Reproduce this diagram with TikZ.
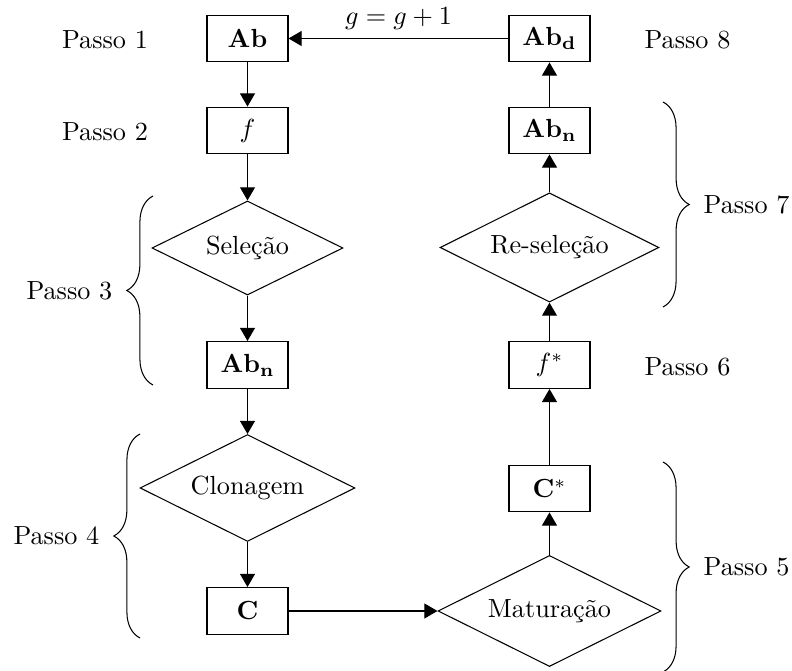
\documentclass[tikz,border=0pt]{standalone}
\usepackage{amsmath}
\usepackage{amssymb}
\usetikzlibrary{shapes.geometric,arrows.meta,decorations.pathreplacing}

\begin{document}
\begin{tikzpicture}[x=0.3817pt,y=-0.3817pt,
  caixa/.style={draw, rectangle, minimum width=30.9pt, minimum height=17.9pt, inner sep=0pt},
  decisao/.style={draw, diamond, aspect=2, inner sep=0pt, minimum width=83.5pt, minimum height=41.7pt},
  seta/.style={-{Triangle[length=5pt,width=5.7pt]}},
  chave/.style={decorate, decoration={brace, amplitude=10pt}}]
\useasboundingbox (0,0) rectangle (792,671);
\node[caixa] (ab) at (247.5,38.5) {$\mathbf{Ab}$};
\node[caixa] (f) at (247.5,130.5) {$f$};
\node[decisao, minimum width=72.9pt, minimum height=35.9pt] (selecao) at (247.5,248) {Seleção};
\node[caixa] (abn) at (247.5,365) {$\mathbf{Ab_n}$};
\node[decisao, minimum width=82pt, minimum height=40.8pt] (clonagem) at (247.5,488) {Clonagem};
\node[caixa] (c) at (247.5,611) {$\mathbf{C}$};
\node[decisao, minimum width=85.1pt, minimum height=42.4pt] (maturacao) at (549.5,611) {Maturação};
\node[caixa] (cstar) at (549.5,488.5) {$\mathbf{C}^*$};
\node[caixa] (fstar) at (549.5,365) {$f^*$};
\node[decisao] (reselecao) at (549.5,247.5) {Re-seleção};
\node[caixa] (abnr) at (549.5,130.5) {$\mathbf{Ab_n}$};
\node[caixa] (abd) at (549.5,38.5) {$\mathbf{Ab_d}$};
\node (passo1) at (105,40) {Passo 1};
\node (passo2) at (105,132) {Passo 2};
\node (passo6) at (687.5,367) {Passo 6};
\node (passo8) at (687.5,40) {Passo 8};
\draw[seta] (ab) -- (f);
\draw[seta] (f) -- (selecao);
\draw[seta] (selecao) -- (abn);
\draw[seta] (abn) -- (clonagem);
\draw[seta] (clonagem) -- (c);
\draw[seta] (c) -- (maturacao);
\draw[seta] (maturacao) -- (cstar);
\draw[seta] (cstar) -- (fstar);
\draw[seta] (fstar) -- (reselecao);
\draw[seta] (reselecao) -- (abnr);
\draw[seta] (abnr) -- (abd);
\draw[seta] (abd) -- (ab) node[midway, above] {$g=g+1$};
\draw[chave] (153,385) -- (153,196) node[midway, left=12pt] {Passo 3};
\draw[chave] (140,638) -- (140,434) node[midway, left=12pt] {Passo 4};
\draw[chave] (663,102) -- (663,307) node[midway, right=12pt] {Passo 7};
\draw[chave] (663,462) -- (663,672) node[midway, right=12pt] {Passo 5};
\end{tikzpicture}
\end{document}
